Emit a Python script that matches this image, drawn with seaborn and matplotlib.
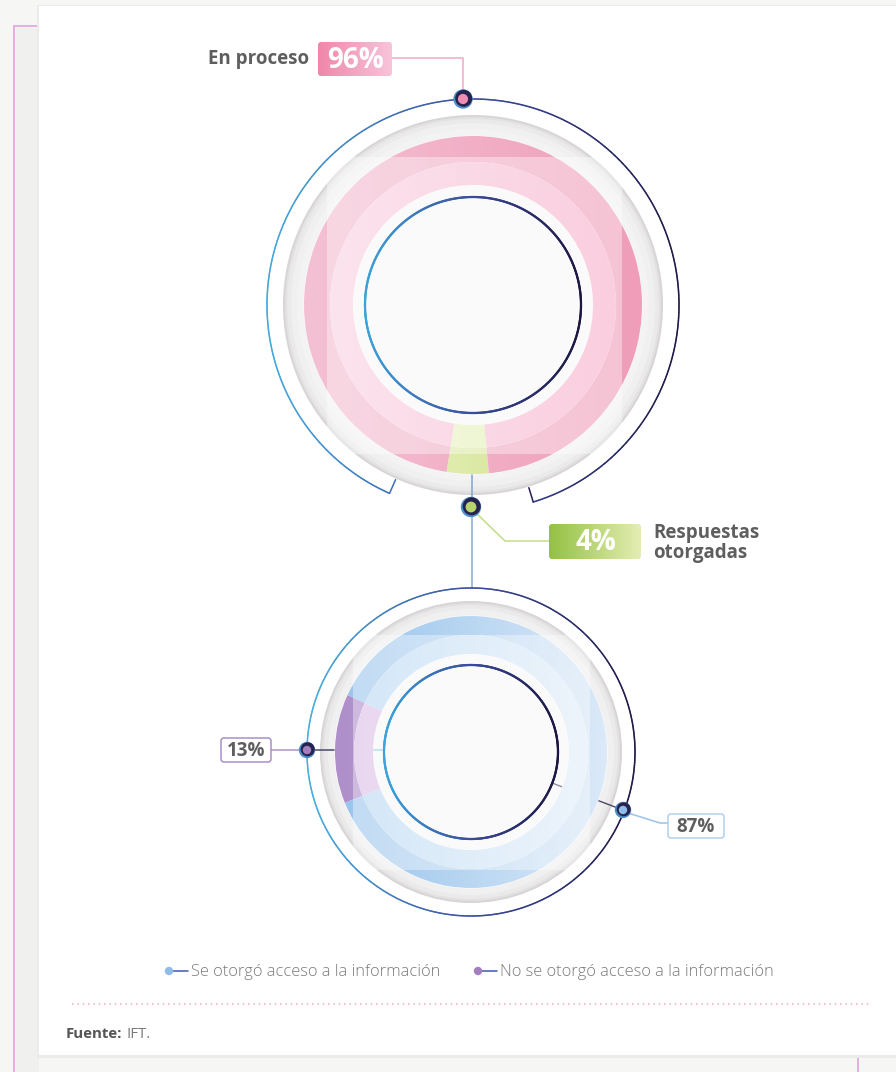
import numpy as np
import matplotlib
matplotlib.use("Agg")
import matplotlib.pyplot as plt
import seaborn as sns
from matplotlib.patches import Circle, Rectangle, FancyBboxPatch
from matplotlib.collections import LineCollection

# data
estado_labels = ["Respuestas otorgadas", "En proceso"]
estado_values = [4, 96]
acceso_labels = ["No se otorgó acceso a la información", "Se otorgó acceso a la información"]
acceso_values = [13, 87]
fuente = "IFT."

sns.set_theme(style="white")
plt.rcParams['font.family'] = ['Open Sans', 'DejaVu Sans']

W, H = 896, 1072
fig = plt.figure(figsize=(W / 100, H / 100), dpi=100, facecolor="#f6f6f4")
ax = fig.add_axes([0, 0, 1, 1])
ax.set_facecolor("#f6f6f4")

GREY_TXT = "#5e5e5e"


def grad_fill(patch, c1, c2, extent, z, vertical=False, alpha=1.0):
    cmap = sns.blend_palette([c1, c2], as_cmap=True)
    g = np.linspace(0, 1, 256)
    g = g.reshape(-1, 1) if vertical else g.reshape(1, -1)
    im = ax.imshow(g, cmap=cmap, extent=extent, aspect="auto", zorder=z,
                   interpolation="bicubic", alpha=alpha)
    im.set_clip_path(patch)
    return im


def grad_arc(cx, cy, r, a0, a1, colors, lw, z):
    t = np.radians(np.linspace(a0, a1, 600))
    x = cx + r * np.cos(t)
    y = cy + r * np.sin(t)
    pts = np.column_stack([x, y]).reshape(-1, 1, 2)
    segs = np.concatenate([pts[:-1], pts[1:]], axis=1)
    lc = LineCollection(segs, cmap=sns.blend_palette(colors, as_cmap=True),
                        norm=plt.Normalize(cx - r, cx + r), linewidths=lw, zorder=z,
                        capstyle="round")
    lc.set_array((x[:-1] + x[1:]) / 2)
    ax.add_collection(lc)


def grey_disc(cx, cy, r):
    for dr, col in [(0, "#d8d5d5"), (2, "#e3e1e1"), (4, "#ebeaea"), (8, "#f1f0f0"), (14, "#f4f3f3")]:
        ax.add_patch(Circle((cx, cy), r - dr, facecolor=col, edgecolor="none", zorder=2))


def donut(values, cx, cy, r_out, r_mid, r_in, start, outer_cols, inner_cols):
    w1, _ = ax.pie(values, radius=r_out, center=(cx, cy), startangle=start,
                   counterclock=True, frame=True,
                   wedgeprops=dict(width=r_out - r_mid, facecolor="none", edgecolor="none"))
    w2, _ = ax.pie(values, radius=r_mid, center=(cx, cy), startangle=start,
                   counterclock=True, frame=True,
                   wedgeprops=dict(width=r_mid - r_in, facecolor="none", edgecolor="none"))
    ext = [cx - r_out, cx + r_out, cy + r_out, cy - r_out]
    for wd, (c1, c2) in zip(w1, outer_cols):
        wd.set_zorder(4)
        grad_fill(wd, c1, c2, ext, 4)
    for wd, (c1, c2) in zip(w2, inner_cols):
        wd.set_zorder(4)
        grad_fill(wd, c1, c2, ext, 4)
    for wd in list(w1) + list(w2):
        wd.set_edgecolor("white")
        wd.set_linewidth(0.6)


def dot(x, y, r, inner, z=7):
    ax.add_patch(Circle((x, y), r + 1.2, facecolor="#4f8fca", edgecolor="none", zorder=z))
    ax.add_patch(Circle((x + 0.7, y - 0.7), r, facecolor="#26234f", edgecolor="none", zorder=z))
    ax.add_patch(Circle((x, y), r * 0.6, facecolor=inner, edgecolor="none", zorder=z))


def box(x0, y0, x1, y1, c1=None, c2=None, edge=None):
    p = FancyBboxPatch((x0, y0), x1 - x0, y1 - y0, boxstyle="round,pad=0,rounding_size=3",
                       facecolor="white" if c1 is None else "none",
                       edgecolor=edge if edge else "none", linewidth=1, zorder=8)
    ax.add_patch(p)
    if c1 is not None:
        grad_fill(p, c1, c2, [x0, x1, y1, y0], 8)


# page + card
ax.plot([14, 14], [26, 1072], color="#e2a3dc", lw=1.2, zorder=0.5)
ax.plot([14, 39], [26, 26], color="#e2a3dc", lw=1.2, zorder=0.5)
ax.plot([858, 858], [1050, 1072], color="#e2a3dc", lw=1.2, zorder=0.5)
ax.add_patch(Rectangle((16, 28), 23, 1044, facecolor="#f0f0ee", edgecolor="none", zorder=0.4))
ax.add_patch(Rectangle((37, 5), 862, 1053, facecolor="#ebebe9", edgecolor="none", zorder=0.8))
ax.add_patch(Rectangle((39, 6), 860, 1049, facecolor="white", edgecolor="none", zorder=1))

# ---------- top donut ----------
TX, TY = 473, 305
grey_disc(TX, TY, 190)
ax.add_patch(Circle((TX, TY), 120, facecolor="#f8f8f8", edgecolor="none", zorder=3.5))
ax.plot([471.5, 471.5], [440, 500], color="#86acd3", lw=1.2, zorder=3.6)
donut(estado_values, TX, TY, 169, 143, 120, 91.8 - estado_values[0] * 1.8,
      [("#f0f5d2", "#c9df7c"), ("#f4c1d4", "#ef9db8")],
      [("#f4f9dc", "#d8ea9c"), ("#fad7e6", "#f7adc9")])
ax.add_patch(Rectangle((327, 157), 295, 297, facecolor="white", alpha=0.38,
                       edgecolor="none", zorder=5))
grad_arc(TX, TY, 108, 0, 360, ["#3da2da", "#3b4c9c", "#1b1640"], 1.6, 6)
grad_arc(TX, TY, 206, 113.9, 433.0, ["#45a9dc", "#3d4e9e", "#1d1848"], 1.1, 6)
for a, c in [(113.9, "#3e6fb4"), (73.0, "#272057")]:
    t = np.radians(a)
    ax.plot([TX + 206 * np.cos(t), TX + 191 * np.cos(t)],
            [TY + 206 * np.sin(t), TY + 191 * np.sin(t)], color=c, lw=1.1, zorder=6)

# ---------- bottom donut ----------
BX, BY = 471, 752
grey_disc(BX, BY, 151)
ax.add_patch(Circle((BX, BY), 98, facecolor="#f8f8f8", edgecolor="none", zorder=3.5))
ax.plot([307, 384], [750, 750], color="#4b4868", lw=1.1, zorder=3.6)
ax.plot([374, 384], [750, 750], color="#a9d3ef", lw=1.5, zorder=3.7)
ax.plot([552, 623], [783, 810], color="#4b4868", lw=1.0, zorder=3.6)
donut(acceso_values, BX, BY, 136, 117, 98, 181.4 - acceso_values[0] * 1.8,
      [("#ae8fca", "#caa9da"), ("#98c4ec", "#dbe9f8")],
      [("#dcbfe6", "#e7d2ef"), ("#b6d7f3", "#e6f0fa")])
ax.add_patch(Rectangle((353, 635), 237, 235, facecolor="white", alpha=0.38,
                       edgecolor="none", zorder=5))
grad_arc(BX, BY, 87, 0, 360, ["#3aa5dc", "#3b4c9c", "#1b1640"], 1.6, 6)
grad_arc(BX, BY, 164, 0, 360, ["#48b0e0", "#3d4e9e", "#1d1848"], 1.1, 6)
ax.plot([471.5, 471.5], [515, 588], color="#8fb3d8", lw=1.2, zorder=3.6)

# ---------- callouts ----------
ax.plot([392, 463, 463], [58, 58, 91], color="#f3a8c6", lw=1.1, zorder=6.5)
dot(463, 99, 8.5, "#f08db3")
box(318, 42, 392, 76, "#ef87aa", "#f7c4da")
ax.text(355, 60, f"{estado_values[1]}%", color="white", fontsize=20, fontweight="bold",
        ha="center", va="center", zorder=9)
ax.text(309, 59, "En proceso", color=GREY_TXT, fontsize=13.5, fontweight="bold",
        ha="right", va="center", zorder=9)

ax.plot([474, 505, 549], [511, 541, 541], color="#c3dc88", lw=1.1, zorder=6.5)
dot(471, 507, 9, "#b6d46c")
box(549, 524, 641, 559, "#93c143", "#e4edb3")
ax.text(596, 542, f"{estado_values[0]}%", color="white", fontsize=20, fontweight="bold",
        ha="center", va="center", zorder=9)
ax.text(653, 543, "Respuestas\notorgadas", color=GREY_TXT, fontsize=13.5,
        fontweight="bold", ha="left", va="center", linespacing=1.05, zorder=9)

ax.plot([271, 300], [750, 750], color="#b69bd0", lw=1.2, zorder=6.5)
dot(307, 750, 7, "#a47fc0")
box(221, 738, 271, 762, edge="#a086c4")
ax.text(246, 750.5, f"{acceso_values[0]}%", color=GREY_TXT, fontsize=13.5,
        fontweight="bold", ha="center", va="center", zorder=9)

ax.plot([628, 660, 668], [813, 823, 823], color="#a0c6ea", lw=1.2, zorder=6.5)
dot(623, 810, 7, "#8fbde8")
box(668, 814, 724, 838, edge="#a9cbeb")
ax.text(696, 826.5, f"{acceso_values[1]}%", color=GREY_TXT, fontsize=13.5,
        fontweight="bold", ha="center", va="center", zorder=9)

# ---------- legend ----------
for lx, col, lab in [(169, "#8fbde8", acceso_labels[1]), (478, "#a47fc0", acceso_labels[0])]:
    ax.plot([lx, lx + 19], [971, 971], color="#3e5aa8", lw=1.1, zorder=8)
    ax.add_patch(Circle((lx, 971), 4.2, facecolor=col, edgecolor="none", zorder=9))
    ax.text(lx + 22, 972, lab, color="#7a7a7a", fontsize=11.8, ha="left", va="center",
            fontweight="light", zorder=9)

ax.plot([72, 872], [1004, 1004], color="#f2b3c7", lw=1.2, linestyle=(0, (1, 2.2)), zorder=8)

ax.set_xlim(0, W)
ax.set_ylim(H, 0)
ax.set_aspect("equal")
ax.axis("off")

t1 = ax.text(66, 1034, "Fuente:", color="#555555", fontsize=10.8, fontweight="bold",
             ha="left", va="center", zorder=9)
fig.canvas.draw()
bb = t1.get_window_extent().transformed(ax.transData.inverted())
ax.text(max(bb.x0, bb.x1) + 4, 1034, fuente, color="#7a7a7a", fontsize=10.8, ha="left",
        va="center", zorder=9)

fig.savefig("out.png", dpi=100, facecolor=fig.get_facecolor())
